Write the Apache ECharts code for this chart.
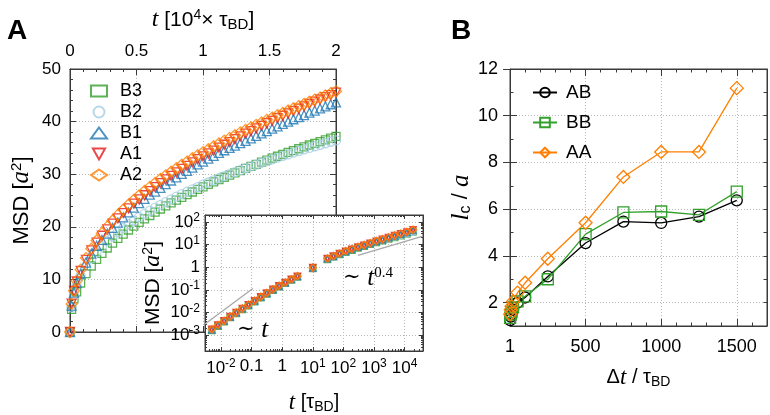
<!DOCTYPE html>
<html><head><meta charset="utf-8">
<script src="https://cdn.jsdelivr.net/npm/echarts@6/dist/echarts.min.js"></script>
<style>html,body{margin:0;padding:0;background:#fff}#c{width:770px;height:415px}</style>
</head><body><div id="c"></div>
<script>
// ---------- Panel A main: time in units of 1e4 tau_BD ----------
const tMain = [0,0.012,0.03,0.05,0.08,0.12,0.16,0.20,0.24,0.28,0.32,0.36,0.40,0.44,0.48,0.52,0.56,0.60,0.64,0.68,0.72,0.76,0.80,0.84,0.88,0.92,0.96,1.00,1.04,1.08,1.12,1.16,1.20,1.24,1.28,1.32,1.36,1.40,1.44,1.48,1.52,1.56,1.60,1.64,1.68,1.72,1.76,1.80,1.84,1.88,1.92,1.96,2.00];
const msdB3 = [0,4.3,6.3,7.61,9.32,11.09,12.55,13.82,14.94,15.97,16.91,17.79,18.61,19.39,20.12,20.84,21.52,22.15,22.78,23.38,23.97,24.53,25.07,25.60,26.12,26.62,27.11,27.60,28.07,28.53,28.99,29.42,29.84,30.26,30.69,31.12,31.49,31.87,32.29,32.68,33.04,33.41,33.78,34.15,34.49,34.84,35.19,35.55,35.87,36.19,36.52,36.85,37.18];
const msdB2 = [0,4.7,7.0,8.97,10.72,12.51,13.95,15.20,16.29,17.26,18.16,19.00,19.77,20.50,21.18,21.83,22.47,23.06,23.65,24.17,24.71,25.23,25.72,26.21,26.66,27.12,27.55,28.00,28.42,28.82,29.23,29.61,30.00,30.39,30.76,31.13,31.47,31.82,32.18,32.50,32.83,33.15,33.49,33.79,34.10,34.41,34.72,34.99,35.31,35.59,35.88,36.17,36.42];
const msdB1 = [0,5.0,7.5,9.3,11.1,13.2,14.9,16.4,17.5,18.7,19.8,20.8,21.8,22.75,23.65,24.5,25.3,26.1,26.7,27.4,28.1,28.8,29.4,30.05,30.65,31.25,31.85,32.4,32.95,33.5,34.05,34.55,35.0,35.45,35.9,36.35,36.8,37.3,37.75,38.2,38.65,39.1,39.55,40.0,40.45,40.85,41.25,41.7,42.1,42.5,42.9,43.3,43.65];
const msdA1 = [0,5.4,7.8,9.6,11.6,13.7,15.5,17.0,18.3,19.5,20.6,21.6,22.6,23.5,24.4,25.2,26.0,26.8,27.55,28.3,29.0,29.7,30.35,31.0,31.6,32.25,32.85,33.4,33.95,34.5,35.05,35.6,36.1,36.65,37.2,37.7,38.2,38.7,39.2,39.7,40.15,40.65,41.1,41.55,42.0,42.45,42.9,43.35,43.8,44.2,44.65,45.05,45.5];
const msdA2 = [0,5.34,7.84,9.72,11.84,14.05,15.84,17.40,18.79,20.03,21.20,22.26,23.27,24.22,25.13,25.98,26.80,27.59,28.36,29.08,29.79,30.48,31.13,31.79,32.40,33.03,33.62,34.20,34.75,35.32,35.85,36.39,36.90,37.42,37.95,38.44,38.91,39.38,39.85,40.33,40.77,41.24,41.65,42.11,42.54,42.95,43.35,43.78,44.18,44.57,44.98,45.38,45.76];

// ---------- Panel A inset: time in tau_BD (log-log) ----------
const insetT = [0.005,0.0079,0.0126,0.02,0.0315,0.05,0.079,0.126,0.2,0.315,0.5,0.79,1.26,2.0,3.15,10,30,47.5,75,119,189,300,475,750,1190,1890,3000,4750,7500,11900,18900];
const inA2 = [0.0018,0.0028,0.0043,0.0066,0.010,0.015,0.022,0.033,0.049,0.072,0.105,0.15,0.21,0.29,0.40,0.95,2.4,3.1,4.0,5.1,6.3,7.8,9.5,11.5,14.3,17.2,20.8,25.2,30.4,36.0,44.8];
const inA1 = [0.0018,0.0028,0.0043,0.0066,0.010,0.015,0.022,0.033,0.049,0.072,0.105,0.15,0.21,0.29,0.40,0.95,2.4,3.1,4.0,5.0,6.2,7.7,9.3,11.3,14.0,16.9,20.3,24.6,29.7,35.2,44.3];
const inB1 = [0.0017,0.0027,0.0042,0.0064,0.0098,0.0146,0.0215,0.032,0.048,0.070,0.102,0.146,0.205,0.285,0.39,0.93,2.35,3.0,3.9,4.9,6.1,7.5,9.1,11.1,13.7,16.4,19.7,23.8,28.7,34.0,42.6];
const inB2 = [0.0017,0.0027,0.0041,0.0063,0.0096,0.0143,0.021,0.031,0.047,0.069,0.100,0.143,0.20,0.28,0.38,0.90,2.3,3.0,3.8,4.8,6.0,7.4,9.0,10.8,13.1,15.6,18.4,21.6,25.3,29.4,35.2];
const inB3 = [0.0016,0.0025,0.0039,0.006,0.009,0.0135,0.02,0.030,0.045,0.066,0.096,0.138,0.195,0.27,0.37,0.88,2.2,2.9,3.6,4.6,5.6,7.0,8.5,10.2,12.2,14.6,17.4,20.6,24.5,29.0,36.0];
const guide1X = [0.003, 0.11];
const guide1Y = [0.0031, 0.114];
const guide2X = [300, 40000];
const guide2Y = [3.27, 23.1];

// ---------- Panel B ----------
const dtB  = [1, 5, 10, 20, 50, 100, 250, 500, 750, 1000, 1250, 1500];
const lcAB = [1.25, 1.4, 1.5, 1.7, 2.0, 2.22, 3.12, 4.55, 5.47, 5.41, 5.68, 6.38];
const lcBB = [1.35, 1.5, 1.6, 1.8, 2.05, 2.27, 3.0, 4.93, 5.86, 5.90, 5.76, 6.75];
const lcAA = [1.5, 1.7, 1.85, 2.05, 2.43, 2.85, 3.88, 5.42, 7.38, 8.45, 8.45, 11.18];
const bXTicks = [0, 500, 1000, 1500];
const bYTicks = [2, 4, 6, 8, 10, 12];

// ---------- styling ----------
const SANS = '"Liberation Sans", Arial, Helvetica, sans-serif';
const SERIF = '"Liberation Serif", "DejaVu Serif", serif';
const AXC = '#3a3a3a';
const GRIDC = '#b8b8b8';
const COL = {B3:'#33a02c', B2:'#a6cee3', B1:'#1f78b4', A1:'#e31a1c', A2:'#ff7f00', AB:'#000000', BB:'#33a02c', AA:'#ff7f00'};
const DOWN = 'path://M0,0L10,0L5,9Z';

function rich(fs){
  return {
    n:{fontFamily:SANS,fontSize:fs,color:'#000'},
    i:{fontFamily:SERIF,fontStyle:'italic',fontSize:fs+3,color:'#000'},
    sup:{fontFamily:SANS,fontSize:Math.round(fs*0.68),color:'#000',verticalAlign:'top',padding:[0,0,Math.round(fs*0.45),0]},
    sub:{fontFamily:SANS,fontSize:Math.round(fs*0.72),color:'#000',verticalAlign:'bottom',padding:[Math.round(fs*0.45),0,0,0]}
  };
}
const pairs = (xs, ys) => xs.map((x, i) => [x, ys[i]]);
const line = {show:true, onZero:false, lineStyle:{color:AXC, width:1}};
const tick = (len, extra) => Object.assign({show:true, inside:true, length:len, lineStyle:{color:AXC, width:1}}, extra || {});
const minor = (n, len) => ({show:true, splitNumber:n, length:len, lineStyle:{color:AXC, width:1}});
const dotted = {show:true, lineStyle:{color:GRIDC, type:[1,2], width:1}};
const supRich = {sup:{fontFamily:SANS,fontSize:12,color:'#000',verticalAlign:'top',padding:[0,0,8,0]}};
function logLab(v, dec){
  const l = Math.log10(v), e = Math.round(l);
  if (Math.abs(l - e) > 1e-6) return '';
  if (e === 0) return '1';
  if (dec && e === -1) return '0.1';
  return '10{sup|' + e + '}';
}
const lab = (fs, extra) => Object.assign({color:'#000', fontFamily:SANS, fontSize:fs}, extra || {});
const none = {show:false};

const chart = echarts.init(document.getElementById('c'), null, {renderer:'canvas'});

const xAxis = [
  {gridIndex:0, type:'value', position:'bottom', min:0, max:2, interval:0.5, axisLine:line, axisTick:tick(6), minorTick:minor(5,3), axisLabel:none, splitLine:dotted, z:1},
  {gridIndex:0, type:'value', position:'top', min:0, max:2, interval:0.5, axisLine:line, axisTick:tick(6), minorTick:minor(5,3), axisLabel:lab(17,{margin:9}), splitLine:none, z:1,
   name:'{i|t}{n| [10}{sup|4}{n|× τ}{sub|BD}{n|]}', nameLocation:'middle', nameGap:37, nameTextStyle:{rich:rich(21)}},
  {gridIndex:1, type:'log', logBase:10, position:'bottom', min:0.003, max:40000, axisLine:line, axisTick:tick(4), minorTick:minor(9,2), splitLine:dotted, z:21,
   axisLabel:lab(17,{margin:7, interval:0, hideOverlap:false, formatter:v => logLab(v, true), rich:supRich}),
   name:'{i|t}{n| [τ}{sub|BD}{n|]}', nameLocation:'middle', nameGap:40, nameTextStyle:{rich:rich(20)}},
  {gridIndex:1, type:'log', logBase:10, position:'top', min:0.003, max:40000, axisLine:line, axisTick:tick(4), minorTick:minor(9,2), splitLine:none, axisLabel:none, z:21},
  {gridIndex:2, type:'value', position:'bottom', min:0, max:1700, interval:100, axisLine:line, axisTick:tick(3.5), minorTick:none,
   axisLabel:lab(18,{margin:12, customValues:bXTicks, formatter:v => (v % 500 === 0 && v <= 1500) ? (v === 0 ? '1' : String(v)) : ''}),
   splitLine:{show:true, lineStyle:{color:[GRIDC,'rgba(0,0,0,0)','rgba(0,0,0,0)','rgba(0,0,0,0)','rgba(0,0,0,0)'], type:[1,2], width:1}},
   name:'{n|Δ}{i|t}{n| / τ}{sub|BD}', nameLocation:'middle', nameGap:40, nameTextStyle:{rich:rich(20)}},
  {gridIndex:2, type:'value', position:'bottom', min:0, max:1700, interval:500, axisLine:none, axisTick:tick(7,{customValues:bXTicks}), axisLabel:none, splitLine:none},
  {gridIndex:2, type:'value', position:'top', min:0, max:1700, interval:100, axisLine:line, axisTick:tick(3.5), axisLabel:none, splitLine:none},
  {gridIndex:2, type:'value', position:'top', min:0, max:1700, interval:500, axisLine:none, axisTick:tick(7,{customValues:bXTicks}), axisLabel:none, splitLine:none}
];

const yAxis = [
  {gridIndex:0, type:'value', position:'left', min:0, max:50, interval:10, axisLine:line, axisTick:tick(6), minorTick:minor(5,3), splitLine:dotted, z:1,
   axisLabel:lab(17,{margin:9}),
   name:'{n|MSD [}{i|a}{sup|2}{n|]}', nameLocation:'middle', nameGap:36, nameRotate:90, nameTextStyle:{rich:rich(22)}},
  {gridIndex:0, type:'value', position:'right', min:0, max:50, interval:10, axisLine:line, axisTick:tick(6), minorTick:minor(5,3), splitLine:none, axisLabel:none, z:1},
  {gridIndex:1, type:'log', logBase:10, position:'left', min:0.0002, max:200, axisLine:line, axisTick:tick(4), minorTick:minor(9,2), splitLine:dotted, z:21,
   axisLabel:lab(17,{margin:5, interval:0, hideOverlap:false, formatter:v => logLab(v, false), rich:supRich}),
   name:'{n|MSD [}{i|a}{sup|2}{n|]}', nameLocation:'middle', nameGap:40, nameRotate:90, nameTextStyle:{rich:rich(21)}},
  {gridIndex:1, type:'log', logBase:10, position:'right', min:0.0002, max:200, axisLine:line, axisTick:tick(4), minorTick:minor(9,2), splitLine:none, axisLabel:none, z:21},
  {gridIndex:2, type:'value', position:'left', min:1, max:12, interval:1, axisLine:line, axisTick:tick(3.5), minorTick:none,
   axisLabel:lab(18,{margin:12, customValues:bYTicks, formatter:v => (v % 2 === 0) ? String(v) : ''}),
   splitLine:{show:true, lineStyle:{color:['rgba(0,0,0,0)', GRIDC], type:[1,2], width:1}},
   name:'{i|l}{sub|c}{n| / }{i|a}', nameLocation:'middle', nameGap:33, nameRotate:90, nameTextStyle:{rich:rich(22)}},
  {gridIndex:2, type:'value', position:'left', min:1, max:12, interval:1, axisLine:none, axisTick:tick(7,{customValues:bYTicks}), axisLabel:none, splitLine:none},
  {gridIndex:2, type:'value', position:'right', min:1, max:12, interval:1, axisLine:line, axisTick:tick(3.5), axisLabel:none, splitLine:none},
  {gridIndex:2, type:'value', position:'right', min:1, max:12, interval:1, axisLine:none, axisTick:tick(7,{customValues:bYTicks}), axisLabel:none, splitLine:none}
];

function mainSeries(name, sym, size, ys){
  return {type:'scatter', name, xAxisIndex:0, yAxisIndex:0, z:2, symbol:sym, symbolSize:size,
    itemStyle:{color:'rgba(0,0,0,0)', borderColor:COL[name], borderWidth:1.3},
    data:pairs(tMain, ys), emphasis:{disabled:true}};
}
function insetSeries(name, sym, size, ys){
  return {type:'scatter', name, xAxisIndex:2, yAxisIndex:2, z:23, symbol:sym, symbolSize:size,
    itemStyle:{color:'rgba(0,0,0,0)', borderColor:COL[name], borderWidth:1.6},
    data:pairs(insetT, ys), emphasis:{disabled:true}};
}
function bSeries(name, sym, size, ys){
  return {type:'line', name, xAxisIndex:4, yAxisIndex:4, z:3, symbol:sym, symbolSize:size, showAllSymbol:true,
    lineStyle:{color:COL[name], width:1.3},
    itemStyle:{color:'rgba(0,0,0,0)', borderColor:COL[name], borderWidth:1.3},
    data:pairs(dtB, ys), emphasis:{disabled:true}};
}
function guide(xs, ys){
  return {type:'line', xAxisIndex:2, yAxisIndex:2, z:22, symbol:'none', silent:true,
    lineStyle:{color:'#a8a8a8', width:1.3}, data:pairs(xs, ys)};
}

const option = {
  animation:false,
  backgroundColor:'#fff',
  textStyle:{fontFamily:SANS},
  grid:[
    {left:70, top:69, width:266, height:263, show:true, borderColor:AXC, borderWidth:1, backgroundColor:'rgba(0,0,0,0)', z:0},
    {left:205, top:215, width:218, height:140, show:true, borderColor:AXC, borderWidth:1, backgroundColor:'#ffffff', z:20},
    {left:510, top:69, width:257, height:257, show:true, borderColor:AXC, borderWidth:1, backgroundColor:'rgba(0,0,0,0)', z:0}
  ],
  xAxis, yAxis,
  legend:[
    {data:['B3','B2','B1','A1','A2'], orient:'vertical', left:85, top:77, itemWidth:16, itemHeight:11, itemGap:3, selectedMode:false,
     textStyle:{color:'#000', fontFamily:SANS, fontSize:18, padding:[0,0,0,8]}},
    {data:['AB','BB','AA'], orient:'vertical', left:527, top:78, itemWidth:24, itemHeight:12, itemGap:11, selectedMode:false,
     textStyle:{color:'#000', fontFamily:SANS, fontSize:19, padding:[0,0,0,4]}}
  ],
  series:[
    mainSeries('B3','rect',8,msdB3),
    mainSeries('B2','circle',9,msdB2),
    mainSeries('B1','triangle',9,msdB1),
    mainSeries('A1',DOWN,9,msdA1),
    mainSeries('A2','diamond',11,msdA2),
    guide(guide1X, guide1Y),
    guide(guide2X, guide2Y),
    insetSeries('B3','rect',6,inB3),
    insetSeries('B2','circle',6,inB2),
    insetSeries('B1','triangle',6,inB1),
    insetSeries('A1',DOWN,6,inA1),
    insetSeries('A2','diamond',7,inA2),
    bSeries('AB','circle',11,lcAB),
    bSeries('BB','rect',11,lcBB),
    bSeries('AA','diamond',13,lcAA)
  ],
  graphic:[
    {type:'text', z:50, style:{x:17, y:31, text:'A', font:'bold 28px ' + SANS, fill:'#000', align:'center', verticalAlign:'middle'}},
    {type:'text', z:50, style:{x:461, y:31, text:'B', font:'bold 28px ' + SANS, fill:'#000', align:'center', verticalAlign:'middle'}},
    {type:'text', z:50, style:{x:237, y:330, text:'{s|∼ }{i|t}', align:'left', verticalAlign:'middle',
      rich:{s:{fontFamily:'"DejaVu Serif", serif', fontSize:21, fill:'#000'}, i:{fontFamily:SERIF, fontStyle:'italic', fontSize:25, fill:'#000'}}}},
    {type:'text', z:50, style:{x:343, y:278, text:'{s|∼ }{i|t}{e|0.4}', align:'left', verticalAlign:'middle',
      rich:{s:{fontFamily:'"DejaVu Serif", serif', fontSize:21, fill:'#000'}, i:{fontFamily:SERIF, fontStyle:'italic', fontSize:25, fill:'#000'},
            e:{fontFamily:SERIF, fontSize:15, fill:'#000', verticalAlign:'top', padding:[0,0,10,0]}}}}
  ]
};
chart.setOption(option);
</script>
</body></html>
